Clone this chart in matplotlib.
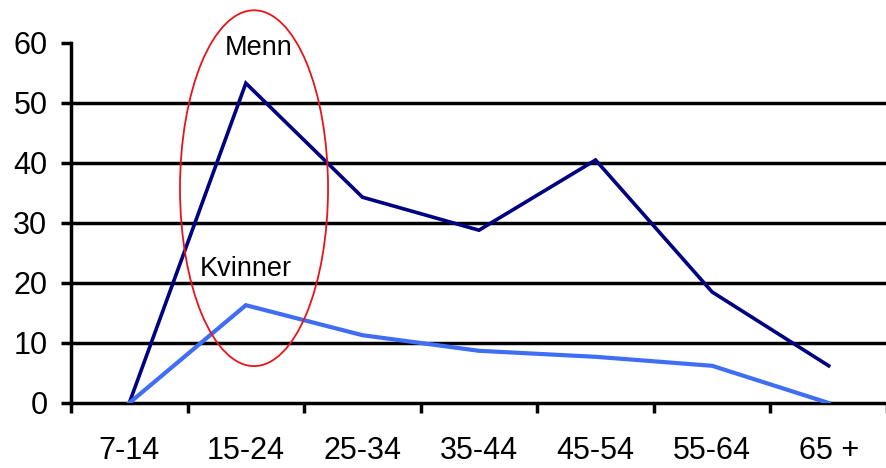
import matplotlib
matplotlib.use("Agg")
from matplotlib import pyplot as plt
from matplotlib.patches import Ellipse

# data
ageGroups = ["7-14", "15-24", "25-34", "35-44", "45-54", "55-64", "65 +"]
menn = [0, 53.3, 34.3, 28.8, 40.5, 18.5, 6.2]
kvinner = [0, 16.3, 11.3, 8.7, 7.7, 6.2, 0]
yTicks = [0, 10, 20, 30, 40, 50, 60]

plt.rcParams["font.family"] = ["Liberation Sans", "DejaVu Sans"]

fig = plt.figure(figsize=(8.87, 4.68), dpi=100)
ax = fig.add_axes([71 / 887, 65 / 468, 816 / 887, 360 / 468])

x = list(range(len(ageGroups)))

# gridlines
for y in yTicks[1:-1]:
    ax.axhline(y, color="black", lw=2.5, zorder=1)

ax.plot(x, menn, color="#000080", lw=2.6, zorder=3, solid_joinstyle="miter")
ax.plot(x, kvinner, color="#3f6ef5", lw=3.0, zorder=3, solid_joinstyle="miter")

ax.text(1.11, 59.2, "Menn", fontsize=19.5, ha="center", va="center", zorder=4)
ax.text(1.0, 22.3, "Kvinner", fontsize=19.5, ha="center", va="center", zorder=4)

ax.add_patch(Ellipse((1.07, 35.8), 1.27, 59.3, fill=False, edgecolor="#e8141a",
                     lw=1.3, clip_on=False, zorder=4))

ax.set_xlim(-0.5, len(ageGroups) - 0.5)
ax.set_ylim(0, 60)

ax.set_xticks(x)
ax.set_xticklabels(ageGroups)
ax.set_xticks([i - 0.5 for i in range(len(ageGroups) + 1)], minor=True)
ax.tick_params(axis="x", which="major", length=0, pad=24, labelsize=22)
ax.tick_params(axis="x", which="minor", length=7, width=2.5, direction="out")

ax.set_yticks(yTicks)
ax.tick_params(axis="y", length=7, width=2.5, direction="out", pad=10, labelsize=22)

for s in ["top", "right"]:
    ax.spines[s].set_visible(False)
for s in ["left", "bottom"]:
    ax.spines[s].set_linewidth(2.5)

plt.savefig("out.png", dpi=100)
